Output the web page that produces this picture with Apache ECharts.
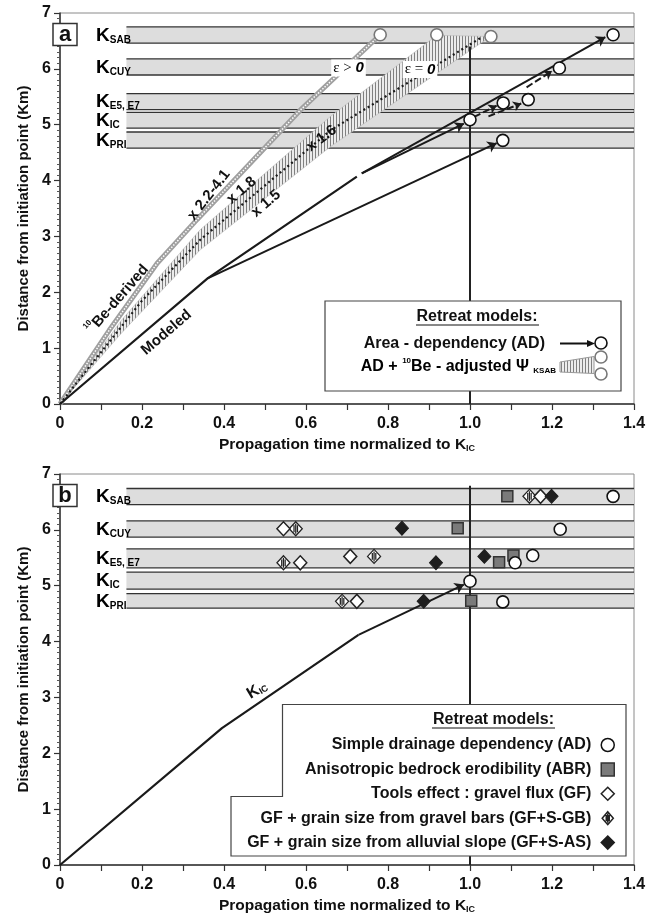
<!DOCTYPE html>
<html>
<head>
<meta charset="utf-8" />
<title>Retreat models</title>
<script src="https://cdn.jsdelivr.net/npm/echarts@6/dist/echarts.min.js"></script>
<style>
html, body { margin: 0; padding: 0; background: #fff; }
#main { width: 647px; height: 919px; }
</style>
</head>
<body>
<div id="main"></div>
<script>
var myChart = echarts.init(document.getElementById('main'));
var F = 'Arial, "Liberation Sans", sans-serif';

// axis tick labels
var xTickLabels = ['0', '0.2', '0.4', '0.6', '0.8', '1.0', '1.2', '1.4'];

// K bands: [bottom, top] in km
var bandNames = ['SAB', 'CUY', 'E5, E7', 'IC', 'PRI'];
var bandsA = [[6.46, 6.75], [5.89, 6.18], [5.27, 5.555], [4.94, 5.22], [4.58, 4.87]];
var bandsB = [[6.45, 6.74], [5.87, 6.16], [5.32, 5.66], [4.94, 5.245], [4.60, 4.86]];
var bandStart = 0.162;
var bandEnd = 1.4;
var bandLabelX = 0.088;

// panel a
var modeledPath = [[0, 0], [0.36, 2.25], [0.724, 4.07]];
var modeledArrows = [
    [[0.736, 4.13], [1.33, 6.57]],
    [[0.736, 4.13], [0.985, 5.02]],
    [[0.36, 2.25], [1.065, 4.67]]
];
var dashedArrows = [
    [[1.01, 5.14], [1.065, 5.34]],
    [[1.045, 5.15], [1.125, 5.38]],
    [[1.138, 5.67], [1.20, 5.96]]
];
var beRibbon = [[0, 0], [0.12, 1.32], [0.237, 2.52], [0.334, 3.30], [0.586, 5.26], [0.781, 6.61]];
var epsUpper = [[0, 0], [0.15, 1.5], [0.342, 3.12], [0.66, 5.15], [0.919, 6.6]];
var epsLower = [[0, 0], [0.15, 1.27], [0.342, 2.76], [0.66, 4.61], [1.05, 6.58]];
var epsCenter = [[0, 0], [0.2, 1.85], [0.342, 2.94], [0.66, 4.9], [1.025, 6.55]];
var adCirclesA = [[1.0, 5.09], [1.081, 5.39], [1.142, 5.45], [1.218, 6.015], [1.08, 4.72], [1.349, 6.61]];
var beCirclesA = [[0.781, 6.61], [0.919, 6.61], [1.051, 6.58]];
var kicLineA = [[1, 0], [1, 6.4]];

// panel b
var kicPathB = [[0, 0], [0.395, 2.45], [0.728, 4.12]];
var kicArrowB = [[[0.728, 4.12], [0.985, 5.02]]];
var kicLineB = [[1, 0], [1, 6.79]];
var adB = [[1.349, 6.60], [1.220, 6.01], [1.110, 5.41], [1.153, 5.54], [1.0, 5.08], [1.080, 4.71]];
var abrB = [[1.091, 6.60], [0.970, 6.03], [1.071, 5.42], [1.106, 5.54], [1.003, 4.73]];
var gfB = [[1.172, 6.60], [0.545, 6.02], [0.586, 5.41], [0.708, 5.525], [0.724, 4.72]];
var gfsgbB = [[1.145, 6.60], [0.575, 6.02], [0.545, 5.41], [0.766, 5.525], [0.688, 4.72]];
var gfsasB = [[1.199, 6.60], [0.834, 6.03], [0.917, 5.41], [1.035, 5.525], [0.887, 4.72]];
var seriesNamesB = [
    'Simple drainage dependency (AD)',
    'Anisotropic bedrock erodibility (ABR)',
    'Tools effect : gravel flux (GF)',
    'GF + grain size from gravel bars (GF+S-GB)',
    'GF + grain size from alluvial slope (GF+S-AS)'
];

// hatch pattern
var hatch = document.createElement('canvas');
hatch.width = 3; hatch.height = 3;
var hc = hatch.getContext('2d');
hc.fillStyle = '#ececec'; hc.fillRect(0, 0, 3, 3);
hc.fillStyle = '#808080'; hc.fillRect(0, 0, 1, 3);
var hatchFill = { image: hatch, repeat: 'repeat' };

var stripedDiamond = 'path://M6,0 L12,7 L6,14 L0,7 Z M4.4,3.6 L4.4,10.4 M6,2 L6,12 M7.6,3.6 L7.6,10.4';

var kRich = {
    k: { fontSize: 19, fontWeight: 'bold', fontFamily: F, color: '#111', lineHeight: 22, verticalAlign: 'bottom' },
    s: { fontSize: 10, fontWeight: 'bold', fontFamily: F, color: '#111', lineHeight: 10, verticalAlign: 'bottom' }
};

function bandRenderer(bands) {
    return function (params, api) {
        var i = params.dataIndex;
        var tl = api.coord([bandStart, bands[i][1]]);
        var br = api.coord([bandEnd, bands[i][0]]);
        var lab = api.coord([bandLabelX, (bands[i][0] + bands[i][1]) / 2]);
        return {
            type: 'group',
            children: [
                { type: 'rect', shape: { x: tl[0], y: tl[1], width: br[0] - tl[0], height: br[1] - tl[1] }, style: { fill: '#dddddd' } },
                { type: 'line', shape: { x1: tl[0], y1: tl[1], x2: br[0], y2: tl[1] }, style: { stroke: '#333', lineWidth: 1.3 } },
                { type: 'line', shape: { x1: tl[0], y1: br[1], x2: br[0], y2: br[1] }, style: { stroke: '#333', lineWidth: 1.3 } },
                { type: 'text', x: lab[0], y: lab[1] - 1, style: { text: '{k|K}{s|' + bandNames[i] + '}', rich: kRich, align: 'left', verticalAlign: 'middle' } }
            ]
        };
    };
}

function bandSeries(bands, gi) {
    return {
        type: 'custom', xAxisIndex: gi, yAxisIndex: gi, z: 1,
        renderItem: bandRenderer(bands),
        data: bands.map(function (b) { return [bandStart, b[0], bandEnd, b[1]]; }),
        silent: true
    };
}

function xAxisCfg(gi) {
    return {
        type: 'value', gridIndex: gi, min: 0, max: 1.4, interval: 0.2,
        name: '{a|Propagation time normalized to K}{s|IC}',
        nameLocation: 'middle', nameGap: 31,
        nameTextStyle: {
            rich: {
                a: { fontSize: 15.5, fontWeight: 'bold', color: '#111', fontFamily: F, lineHeight: 18, verticalAlign: 'bottom' },
                s: { fontSize: 9, fontWeight: 'bold', color: '#111', fontFamily: F, lineHeight: 10, verticalAlign: 'bottom' }
            }
        },
        axisLine: { onZero: false, lineStyle: { color: '#333', width: 1.5 } },
        axisTick: { length: 6, lineStyle: { color: '#333', width: 1.2 } },
        minorTick: { show: true, splitNumber: 2, length: 6, lineStyle: { color: '#333', width: 1.2 } },
        axisLabel: {
            margin: 12, fontSize: 16, fontWeight: 'bold', color: '#111', fontFamily: F,
            formatter: function (v) { return xTickLabels[Math.round(v / 0.2)]; }
        },
        splitLine: { show: false }
    };
}

function yAxisCfg(gi) {
    return {
        type: 'value', gridIndex: gi, min: 0, max: 7, interval: 1,
        name: 'Distance from initiation point (Km)',
        nameLocation: 'middle', nameGap: 27,
        nameTextStyle: { fontSize: 15, fontWeight: 'bold', color: '#111', fontFamily: F },
        axisLine: { onZero: false, lineStyle: { color: '#333', width: 1.5 } },
        axisTick: { length: 6, lineStyle: { color: '#333', width: 1.2 } },
        minorTick: { show: true, splitNumber: 10, length: 3, lineStyle: { color: '#555', width: 1 } },
        axisLabel: { margin: 9, fontSize: 16, fontWeight: 'bold', color: '#111', fontFamily: F },
        splitLine: { show: false }
    };
}

function circleSeries(data, gi, border, name) {
    return {
        type: 'scatter', name: name, xAxisIndex: gi, yAxisIndex: gi, z: 8,
        symbol: 'circle', symbolSize: 12,
        itemStyle: { color: '#fff', borderColor: border, borderWidth: 1.6, opacity: 1 },
        data: data
    };
}

function rotText(x, y, deg, text, rich, size) {
    return {
        type: 'text', x: x, y: y, rotation: deg * Math.PI / 180, z: 100,
        style: {
            text: text, rich: rich, align: 'center', verticalAlign: 'middle',
            font: 'bold ' + (size || 15) + 'px ' + F, fill: '#111'
        }
    };
}

var supRich = {
    t: { fontSize: 15, fontWeight: 'bold', fontFamily: F, color: '#111', lineHeight: 18, verticalAlign: 'bottom' },
    u: { fontSize: 8, fontWeight: 'bold', fontFamily: F, color: '#111', lineHeight: 18, verticalAlign: 'top' }
};
var epsRich = {
    e: { fontSize: 15, fontFamily: '"Liberation Serif", "DejaVu Serif", serif', color: '#111' },
    z: { fontSize: 15, fontWeight: 'bold', fontStyle: 'italic', fontFamily: F, color: '#111' }
};
var legRich = {
    t: { fontSize: 16, fontWeight: 'bold', fontFamily: F, color: '#111', lineHeight: 18, verticalAlign: 'bottom' },
    u: { fontSize: 8, fontWeight: 'bold', fontFamily: F, color: '#111', lineHeight: 18, verticalAlign: 'top' },
    s: { fontSize: 8, fontWeight: 'bold', fontFamily: F, color: '#111', lineHeight: 10, verticalAlign: 'bottom' }
};

var graphics = [
    // panel tags
    { type: 'rect', z: 100, shape: { x: 53, y: 23.5, width: 24, height: 22 }, style: { fill: '#fff', stroke: '#333', lineWidth: 1.5 } },
    { type: 'text', z: 101, x: 65, y: 34.5, style: { text: 'a', font: 'bold 22px ' + F, fill: '#111', align: 'center', verticalAlign: 'middle' } },
    { type: 'rect', z: 100, shape: { x: 53, y: 484.5, width: 24, height: 22 }, style: { fill: '#fff', stroke: '#333', lineWidth: 1.5 } },
    { type: 'text', z: 101, x: 65, y: 495.5, style: { text: 'b', font: 'bold 22px ' + F, fill: '#111', align: 'center', verticalAlign: 'middle' } },

    // panel a annotations
    rotText(209, 195, 52, 'x 2.2-4.1', null, 15),
    rotText(241.5, 190.5, 40, 'x 1.8', null, 15),
    rotText(266, 203.5, 40, 'x 1.5', null, 15),
    rotText(321.5, 138.5, 37, 'x 1.6', null, 15),
    rotText(116.5, 298.5, 49, '{u|10}{t|Be-derived}', supRich, 15),
    rotText(166.5, 332.5, 40.5, 'Modeled', null, 15),
    { type: 'text', z: 100, x: 348.5, y: 68, style: { text: '{e|\u03b5 > }{z|0}', rich: epsRich, align: 'center', verticalAlign: 'middle', backgroundColor: '#fff', padding: [1, 2] } },
    { type: 'text', z: 100, x: 420, y: 69.5, style: { text: '{e|\u03b5 = }{z|0}', rich: epsRich, align: 'center', verticalAlign: 'middle', backgroundColor: '#fff', padding: [1, 2] } },

    // panel a legend
    { type: 'rect', z: 100, shape: { x: 325, y: 301, width: 296, height: 90 }, style: { fill: '#fff', stroke: '#444', lineWidth: 1.2 } },
    { type: 'text', z: 101, x: 477, y: 316.5, style: { text: 'Retreat models:', font: 'bold 16px ' + F, fill: '#111', align: 'center', verticalAlign: 'middle' } },
    { type: 'line', z: 101, shape: { x1: 416, y1: 325, x2: 539, y2: 325 }, style: { stroke: '#111', lineWidth: 1 } },
    { type: 'text', z: 101, x: 545, y: 344, style: { text: 'Area - dependency (AD)', font: 'bold 16px ' + F, fill: '#111', align: 'right', verticalAlign: 'middle' } },
    { type: 'line', z: 101, shape: { x1: 560, y1: 343.5, x2: 590, y2: 343.5 }, style: { stroke: '#111', lineWidth: 2 } },
    { type: 'polygon', z: 101, shape: { points: [[587, 340], [595, 343.5], [587, 347]] }, style: { fill: '#111' } },
    { type: 'circle', z: 102, shape: { cx: 601, cy: 343, r: 6 }, style: { fill: '#fff', stroke: '#111', lineWidth: 1.6 } },
    { type: 'text', z: 101, x: 556, y: 366, style: { text: '{t|AD + }{u|10}{t|Be - adjusted \u03a8 }{s|KSAB}', rich: legRich, align: 'right', verticalAlign: 'middle' } },
    { type: 'polygon', z: 101, shape: { points: [[560, 362], [594, 356.5], [594, 373.5], [560, 372]] }, style: { fill: hatchFill, stroke: '#999', lineWidth: 1 } },
    { type: 'circle', z: 102, shape: { cx: 601, cy: 357, r: 6 }, style: { fill: '#fff', stroke: '#777', lineWidth: 1.6 } },
    { type: 'circle', z: 102, shape: { cx: 601, cy: 374, r: 6 }, style: { fill: '#fff', stroke: '#777', lineWidth: 1.6 } },

    // panel b annotation
    rotText(256.5, 689, 31, '{t|K}{s|IC}', {
        t: { fontSize: 16, fontWeight: 'bold', fontFamily: F, color: '#111', lineHeight: 18, verticalAlign: 'bottom' },
        s: { fontSize: 9, fontWeight: 'bold', fontFamily: F, color: '#111', lineHeight: 10, verticalAlign: 'bottom' }
    }, 16),

    // panel b legend frame
    { type: 'polygon', z: 3, shape: { points: [[282.5, 704.5], [626, 704.5], [626, 856], [231, 856], [231, 796.5], [282.5, 796.5]] }, style: { fill: '#fff', stroke: '#444', lineWidth: 1.2 } },
    { type: 'text', z: 4, x: 493.5, y: 720, style: { text: 'Retreat models:', font: 'bold 16px ' + F, fill: '#111', align: 'center', verticalAlign: 'middle' } },
    { type: 'line', z: 4, shape: { x1: 432, y1: 728, x2: 555, y2: 728 }, style: { stroke: '#111', lineWidth: 1 } }
];

var option = {
    animation: false,
    backgroundColor: '#fff',
    textStyle: { fontFamily: F },
    grid: [
        { left: 60, top: 13, width: 574, height: 391, show: true, borderColor: '#8a8a8a', borderWidth: 1, backgroundColor: 'transparent', outerBoundsMode: 'none' },
        { left: 60, top: 474, width: 574, height: 391, show: true, borderColor: '#8a8a8a', borderWidth: 1, backgroundColor: 'transparent', outerBoundsMode: 'none' }
    ],
    xAxis: [xAxisCfg(0), xAxisCfg(1)],
    yAxis: [yAxisCfg(0), yAxisCfg(1)],
    legend: {
        data: seriesNamesB,
        orient: 'vertical', align: 'right', right: 27, top: 732,
        itemWidth: 13, itemHeight: 13, itemGap: 8.4,
        selectedMode: false,
        itemStyle: { borderWidth: 1.5 },
        textStyle: { fontSize: 16, lineHeight: 16, fontWeight: 'bold', color: '#111', fontFamily: F, padding: [0, 5, 0, 0] }
    },
    graphic: { elements: graphics },
    series: [
        // ---- panel a ----
        bandSeries(bandsA, 0),
        {
            type: 'line', xAxisIndex: 0, yAxisIndex: 0, z: 3, showSymbol: false, silent: true,
            lineStyle: { color: '#a0a0a0', width: 5 }, data: beRibbon
        },
        {
            type: 'line', xAxisIndex: 0, yAxisIndex: 0, z: 3, showSymbol: false, silent: true,
            lineStyle: { color: '#fff', width: 1.5, type: [1.5, 1.5] }, data: beRibbon
        },
        {
            type: 'custom', xAxisIndex: 0, yAxisIndex: 0, z: 3, silent: true,
            data: [[0, 0]],
            renderItem: function (params, api) {
                var pts = epsUpper.map(function (p) { return api.coord(p); })
                    .concat(epsLower.slice().reverse().map(function (p) { return api.coord(p); }));
                return { type: 'polygon', shape: { points: pts }, style: { fill: hatchFill, stroke: '#bbb', lineWidth: 0.6 } };
            }
        },
        {
            type: 'line', xAxisIndex: 0, yAxisIndex: 0, z: 4, showSymbol: false, silent: true,
            lineStyle: { color: '#1a1a1a', width: 2.2, type: [2, 3] }, data: epsCenter
        },
        {
            type: 'line', xAxisIndex: 0, yAxisIndex: 0, z: 4, showSymbol: false, silent: true,
            lineStyle: { color: '#222', width: 2 }, data: kicLineA
        },
        {
            type: 'line', xAxisIndex: 0, yAxisIndex: 0, z: 5, showSymbol: false, silent: true,
            lineStyle: { color: '#1a1a1a', width: 2.2 }, data: modeledPath
        },
        {
            type: 'lines', coordinateSystem: 'cartesian2d', xAxisIndex: 0, yAxisIndex: 0, z: 5, silent: true,
            symbol: ['none', 'arrow'], symbolSize: 9,
            lineStyle: { color: '#1a1a1a', width: 2, opacity: 1 },
            data: modeledArrows.map(function (c) { return { coords: c }; })
        },
        {
            type: 'lines', coordinateSystem: 'cartesian2d', xAxisIndex: 0, yAxisIndex: 0, z: 5, silent: true,
            symbol: ['none', 'arrow'], symbolSize: 8,
            lineStyle: { color: '#1a1a1a', width: 2, opacity: 1, type: [7, 3] },
            data: dashedArrows.map(function (c) { return { coords: c }; })
        },
        circleSeries(beCirclesA, 0, '#777', 'be'),
        circleSeries(adCirclesA, 0, '#111', 'ada'),

        // ---- panel b ----
        bandSeries(bandsB, 1),
        {
            type: 'line', xAxisIndex: 1, yAxisIndex: 1, z: 2, showSymbol: false, silent: true,
            lineStyle: { color: '#222', width: 2 }, data: kicLineB
        },
        {
            type: 'line', xAxisIndex: 1, yAxisIndex: 1, z: 5, showSymbol: false, silent: true,
            lineStyle: { color: '#1a1a1a', width: 2.2 }, data: kicPathB
        },
        {
            type: 'lines', coordinateSystem: 'cartesian2d', xAxisIndex: 1, yAxisIndex: 1, z: 5, silent: true,
            symbol: ['none', 'arrow'], symbolSize: 9,
            lineStyle: { color: '#1a1a1a', width: 2, opacity: 1 },
            data: kicArrowB.map(function (c) { return { coords: c }; })
        },
        {
            type: 'scatter', name: seriesNamesB[1], xAxisIndex: 1, yAxisIndex: 1, z: 6,
            symbol: 'rect', symbolSize: 11,
            itemStyle: { color: '#7a7a7a', borderColor: '#333', borderWidth: 1.5, opacity: 1 },
            data: abrB
        },
        {
            type: 'scatter', name: seriesNamesB[3], xAxisIndex: 1, yAxisIndex: 1, z: 6,
            symbol: stripedDiamond, symbolSize: [13, 14],
            itemStyle: { color: '#fff', borderColor: '#222', borderWidth: 1.3, opacity: 1 },
            data: gfsgbB
        },
        {
            type: 'scatter', name: seriesNamesB[2], xAxisIndex: 1, yAxisIndex: 1, z: 6,
            symbol: 'diamond', symbolSize: [13, 14],
            itemStyle: { color: '#fff', borderColor: '#222', borderWidth: 1.5, opacity: 1 },
            data: gfB
        },
        {
            type: 'scatter', name: seriesNamesB[4], xAxisIndex: 1, yAxisIndex: 1, z: 6,
            symbol: 'diamond', symbolSize: [13, 14],
            itemStyle: { color: '#1e1e1e', borderColor: '#1e1e1e', borderWidth: 1, opacity: 1 },
            data: gfsasB
        },
        circleSeries(adB, 1, '#111', seriesNamesB[0])
    ]
};

myChart.setOption(option);
</script>
</body>
</html>
